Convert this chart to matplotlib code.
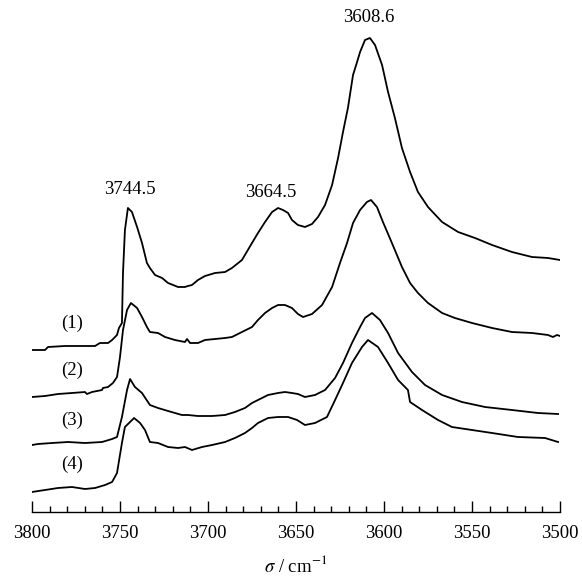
import matplotlib
matplotlib.use('Agg')
import matplotlib.pyplot as plt
from matplotlib.ticker import MultipleLocator

plt.rcParams['font.family'] = ['Liberation Serif', 'DejaVu Serif']
plt.rcParams['mathtext.fontset'] = 'stix'

# ====================================
# DATA (wavenumber / cm-1, absorbance a.u.)
# ====================================

sig1 = [3800.0, 3792.6, 3790.9, 3781.3, 3772.7, 3764.2, 3761.4, 3756.8, 3754.5, 3751.7,
        3750.6, 3748.9, 3748.3, 3747.2, 3745.5, 3743.2, 3740.3, 3737.5, 3734.7, 3733.0,
        3730.1, 3726.1, 3722.7, 3717.0, 3713.1, 3711.4, 3709.1, 3705.7, 3701.7, 3696.0,
        3690.3, 3686.4, 3680.7, 3675.0, 3671.6, 3667.6, 3663.6, 3660.2, 3657.4, 3654.5,
        3652.3, 3648.9, 3644.9, 3640.9, 3637.5, 3633.5, 3629.5, 3626.1, 3623.3, 3620.5,
        3617.6, 3615.3, 3613.6, 3610.8, 3608.0, 3605.1, 3601.1, 3597.7, 3593.8, 3589.8,
        3585.2, 3580.7, 3575.0, 3567.0, 3557.9, 3548.3, 3538.6, 3527.3, 3515.9, 3506.8,
        3500.0]
abs1 = [1.62, 1.62, 1.65, 1.66, 1.66, 1.66, 1.69, 1.69, 1.72, 1.77,
        1.84, 1.89, 2.39, 2.82, 3.04, 3.00, 2.85, 2.69, 2.49, 2.44,
        2.37, 2.34, 2.29, 2.25, 2.25, 2.26, 2.27, 2.32, 2.36, 2.39,
        2.40, 2.44, 2.52, 2.69, 2.79, 2.90, 3.00, 3.04, 3.02, 2.99,
        2.92, 2.87, 2.85, 2.88, 2.95, 3.07, 3.27, 3.54, 3.80, 4.04,
        4.37, 4.50, 4.60, 4.72, 4.74, 4.67, 4.47, 4.20, 3.94, 3.64,
        3.40, 3.20, 3.05, 2.90, 2.80, 2.74, 2.67, 2.60, 2.55, 2.54,
        2.52]

sig2 = [3800.0, 3792.6, 3785.2, 3777.3, 3769.9, 3768.8, 3765.9, 3760.2, 3759.7, 3756.8,
        3754.0, 3751.7, 3750.0, 3748.3, 3746.0, 3743.8, 3740.3, 3737.5, 3734.7, 3733.0,
        3728.4, 3724.4, 3718.8, 3713.1, 3711.9, 3710.2, 3705.7, 3701.7, 3696.0, 3690.3,
        3686.4, 3680.7, 3675.0, 3671.6, 3667.6, 3663.6, 3660.2, 3656.3, 3652.3, 3648.9,
        3646.0, 3640.9, 3635.2, 3629.5, 3625.0, 3621.0, 3617.6, 3613.6, 3609.7, 3607.4,
        3604.0, 3600.6, 3595.5, 3589.8, 3585.2, 3580.7, 3575.0, 3567.0, 3559.7, 3550.0,
        3538.6, 3527.3, 3515.9, 3506.8, 3504.0, 3501.7, 3500.0]
abs2 = [1.15, 1.16, 1.18, 1.19, 1.20, 1.18, 1.20, 1.22, 1.24, 1.25,
        1.29, 1.35, 1.55, 1.82, 2.02, 2.09, 2.04, 1.95, 1.85, 1.80,
        1.79, 1.75, 1.72, 1.70, 1.73, 1.69, 1.69, 1.72, 1.73, 1.74,
        1.75, 1.80, 1.85, 1.92, 1.99, 2.04, 2.07, 2.07, 2.04, 1.98,
        1.95, 1.98, 2.07, 2.25, 2.49, 2.69, 2.89, 3.02, 3.10, 3.12,
        3.05, 2.90, 2.69, 2.45, 2.29, 2.19, 2.09, 1.99, 1.94, 1.89,
        1.84, 1.80, 1.79, 1.77, 1.75, 1.77, 1.76]

sig3 = [3800.0, 3796.6, 3788.6, 3779.5, 3769.9, 3760.2, 3754.5, 3751.7, 3748.9, 3746.0,
        3744.3, 3741.5, 3737.5, 3733.0, 3728.4, 3722.7, 3714.8, 3711.4, 3705.7, 3697.7,
        3690.3, 3684.7, 3679.0, 3675.0, 3671.6, 3665.9, 3660.2, 3656.3, 3652.3, 3648.9,
        3644.9, 3639.2, 3633.5, 3627.8, 3623.3, 3618.2, 3613.6, 3610.8, 3606.8, 3602.3,
        3597.7, 3592.0, 3584.1, 3576.7, 3567.0, 3555.7, 3542.6, 3527.3, 3512.5, 3501.1]
abs3 = [0.67, 0.68, 0.69, 0.70, 0.69, 0.70, 0.73, 0.75, 0.95, 1.22,
        1.33, 1.25, 1.19, 1.07, 1.04, 1.01, 0.97, 0.97, 0.96, 0.96,
        0.97, 1.00, 1.04, 1.09, 1.12, 1.17, 1.19, 1.20, 1.19, 1.18,
        1.15, 1.17, 1.22, 1.34, 1.49, 1.69, 1.85, 1.94, 1.99, 1.92,
        1.79, 1.59, 1.40, 1.27, 1.17, 1.10, 1.05, 1.02, 0.99, 0.98]

sig4 = [3800.0, 3792.6, 3785.2, 3777.3, 3769.9, 3764.2, 3758.5, 3754.5, 3751.7, 3748.9,
        3747.2, 3744.3, 3742.0, 3738.6, 3735.8, 3733.0, 3728.4, 3722.7, 3717.0, 3713.1,
        3709.1, 3703.4, 3697.7, 3690.3, 3684.7, 3679.0, 3675.0, 3671.6, 3665.9, 3660.2,
        3654.5, 3649.4, 3644.9, 3639.2, 3632.4, 3627.8, 3623.3, 3618.2, 3612.5, 3609.1,
        3603.4, 3597.7, 3592.0, 3586.4, 3585.2, 3578.4, 3569.3, 3561.4, 3550.0, 3538.6,
        3523.9, 3508.5, 3501.1]
abs4 = [0.20, 0.22, 0.24, 0.25, 0.23, 0.24, 0.27, 0.30, 0.39, 0.69,
        0.85, 0.90, 0.94, 0.89, 0.82, 0.70, 0.69, 0.65, 0.64, 0.65,
        0.62, 0.65, 0.67, 0.70, 0.74, 0.79, 0.84, 0.89, 0.94, 0.95,
        0.95, 0.92, 0.87, 0.89, 0.95, 1.12, 1.29, 1.49, 1.65, 1.72,
        1.65, 1.49, 1.32, 1.22, 1.10, 1.02, 0.92, 0.85, 0.82, 0.79,
        0.75, 0.74, 0.70]

curve_labels = ['(1)', '(2)', '(3)', '(4)']
label_y = [1.80, 1.33, 0.83, 0.39]
peak_names = ['3744.5', '3664.5', '3608.6']
peak_pos = [3744.5, 3664.5, 3608.6]
peak_y = [3.14, 3.11, 4.86]

# ====================================
# PLOT
# ====================================

fig = plt.figure(figsize=(5.82, 5.77), dpi=100)
ax = fig.add_axes([32/582, 65/577, 528/582, 512/577])

for s, a in [(sig1, abs1), (sig2, abs2), (sig3, abs3), (sig4, abs4)]:
    ax.plot(s, a, color='black', lw=1.3)

for lab, yy in zip(curve_labels, label_y):
    ax.text(3777, yy, lab, fontsize=13.5, ha='center', va='bottom')

for name, xx, yy in zip(peak_names, peak_pos, peak_y):
    ax.text(xx, yy, name, fontsize=13.5, ha='center', va='bottom')

ax.set_xlim(3800, 3500)
ax.set_ylim(0, 5.12)

for side in ['left', 'right', 'top']:
    ax.spines[side].set_visible(False)
ax.spines['bottom'].set_linewidth(1.0)
ax.set_yticks([])

ax.xaxis.set_major_locator(MultipleLocator(50))
ax.xaxis.set_minor_locator(MultipleLocator(10))
ax.tick_params(axis='x', which='major', direction='in', length=8, width=1.0,
               labelsize=13.5, pad=9)
ax.tick_params(axis='x', which='minor', direction='in', length=4, width=1.0)

ax.set_xlabel(r'$\sigma$ / cm$^{-1}$', fontsize=13.5, labelpad=10)

plt.savefig('out.png', dpi=100)
